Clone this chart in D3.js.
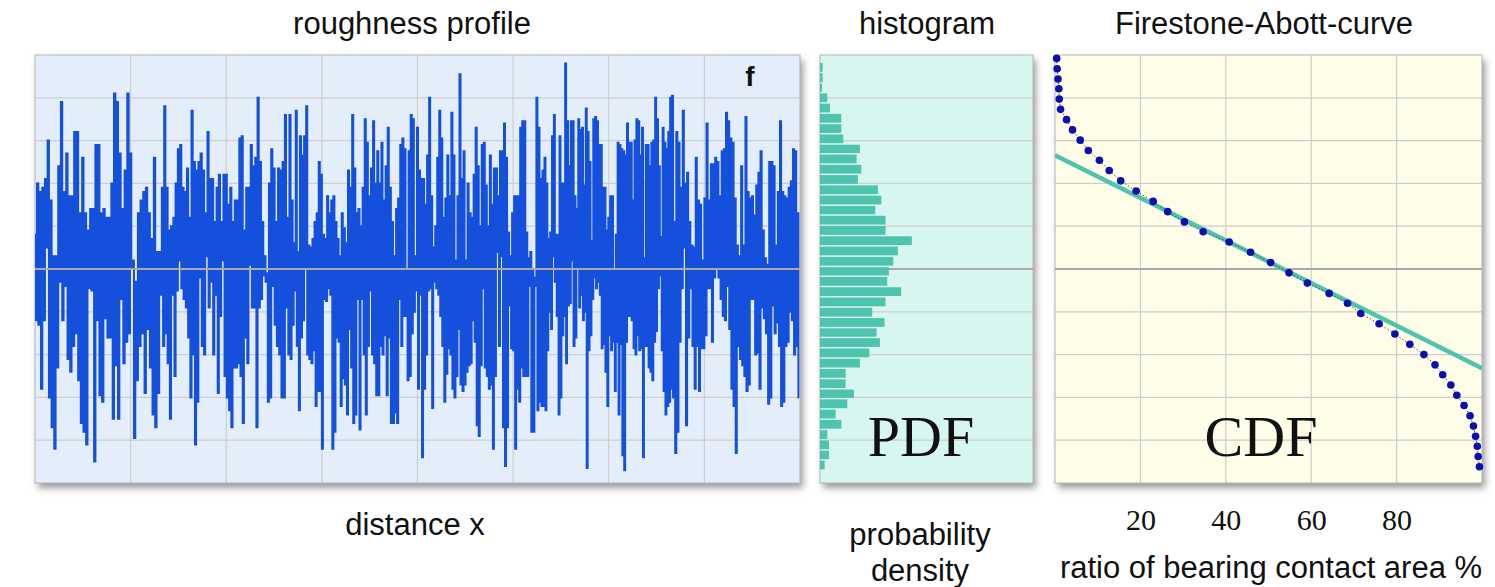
<!DOCTYPE html>
<html>
<head>
<meta charset="utf-8">
<script src="https://cdn.jsdelivr.net/npm/d3@7"></script>
<style>
body { margin: 0; background: #fff; }
text { font-family: "Liberation Sans", Arial, sans-serif; fill: #111; }
</style>
</head>
<body>
<script>
// roughness profile, peak / valley heights read off in six stretches along x
var profileSeg1 = [0.8,-1.2, 2.0,-1.3, 1.8,-2.8, 1.9,-1.2, 2.1,0.5, 3.0,-3.0, 1.6,-3.7, 0.3,-4.2, 0.3,-2.3, 2.4,-0.3,
  3.9,-1.2, 1.8,-0.4, 2.7,-2.1, 1.7,-2.4, 1.7,-1.8, 3.2,-1.5, 3.2,-2.6, 1.3,-3.6, 2.6,-3.8, 1.3,-4.1,
  0.9,-0.45, 1.4,-0.5, 1.4,-4.5, 2.9,-1.2, 2.9,-2.95, 1.3,-3.1, 1.4,-1.15, 1.2,-1.6, 1.2,-1.6, 2.0,-3.5,
  4.1,-2.25, 3.9,-3.5, 2.7,-0.7, 1.4,-2.2, 2.3,-1.7, 4.1,-1.5, 2.7,0.0, 0.2,-3.95, -0.3,-2.6, 1.3,-1.8,
  1.6,-1.5, 1.8,-2.9, 1.9,-1.4, 1.3,-2.3, 0.7,-3.4, 2.6,-3.7, 0.4,-2.9, 0.4,-0.6];
var profileSeg2 = [1.9,-1.8, 3.8,-1.5, 1.9,-2.2, 0.9,-3.5, 1.0,-0.6, 1.2,-2.5, 2.0,-0.5, 2.8,0.2, 2.9,-0.45, 1.9,-0.7,
  1.8,-0.9, 2.35,-1.6, 1.2,-3.0, 3.7,-2.0, 2.5,-4.1, 2.3,-3.1, 2.5,-0.2, 2.7,-1.8, 2.3,-2.0, 1.3,0.3,
  3.2,-0.9, 2.1,-0.3, 2.1,-2.0, 1.1,-0.6, 1.9,-2.9, 2.2,-1.1, 1.1,0.2, 2.2,-2.5, 2.2,-3.0, 1.5,-3.3,
  1.9,-3.7, 1.1,-2.3, 1.6,-2.3, 1.6,-2.2, 3.05,-2.5, 3.1,-3.6, 0.9,-1.6, 1.9,-2.2, 1.9,0.1, 2.9,-0.9,
  2.4,-0.9, 2.6,-3.7, 4.0,-0.9, 2.5,-0.7, 1.1,-0.15, 0.3,-0.3, -0.1,-3.1, 2.0,-3.0, 2.8,-0.4, 2.35,-1.3,
  1.1,-1.8, 2.35,-2.0, 2.3,-3.0, 2.5,-3.0, 3.6,-0.9, 1.2,-2.0];
var profileSeg3 = [3.6,-2.1, 1.6,-1.3, 0.6,-0.5, 3.7,-1.8, 0.4,-3.3, 3.1,-1.6, 2.65,-1.2, 3.1,0.0, 3.8,-2.0, 0.55,-2.1,
  0.5,-2.2, 0.7,-1.9, 1.1,-3.2, 1.3,-2.85, 2.5,-2.85, 2.2,-4.2, 0.8,-0.7, 0.7,-0.75, 1.7,-0.45, 1.3,-0.6,
  1.6,-4.2, 1.7,-3.8, 1.1,-1.6, 0.7,-1.7, 0.3,-3.2, 1.3,-2.55, 0.95,-2.7, 0.6,-3.4, 2.3,-1.4, 1.9,-2.3,
  3.6,-3.6, 2.35,-3.4, 1.3,-0.7, 1.4,-3.75, 1.0,-0.7, 1.9,-2.0, 3.5,-3.4, 2.95,-1.8, 1.7,-0.5, 2.35,-2.0,
  3.45,-2.2, 2.0,-2.95, 2.75,-2.95, 2.0,-1.8, 2.95,-2.0, 1.6,-1.55, 2.4,-2.95, 3.3,-1.6, 1.9,-3.6, 1.1,-3.6,
  0.3,-3.35, 1.4,-3.6, 1.65,-0.7, 2.9,-1.8, 3.05,-1.1, 2.8,-1.1, 0.0,-2.6, 2.75,-2.5, 3.6,-1.5, 3.5,-1.0, 0.3,-0.5];
var profileSeg4 = [3.3,-2.8, 2.3,-0.6, 2.1,-4.4, 2.1,-2.8, 1.5,-2.0, 2.65,-0.5, 4.0,-0.45, 1.7,-3.25, 0.5,-0.3, 1.0,-0.45,
  2.6,-0.6, 3.7,-1.1, 3.05,-1.8, 1.2,-3.1, 1.65,-2.45, 2.65,-1.85, 1.7,-2.0, 3.65,-2.8, 2.65,-3.0, 0.2,-2.5,
  1.7,-1.4, 4.55,-2.7, 2.1,-2.85, 2.75,-2.7, 0.2,-2.4, 2.0,-2.25, 1.3,-2.2, 1.2,-1.2, 2.2,-1.7, 3.3,-3.65,
  2.4,-3.9, 1.0,-2.25, 2.9,-0.45, 2.95,-2.3, 1.95,-2.5, 1.0,-2.8, 2.65,-2.7, 1.5,-4.2, 2.35,-2.5, 2.35,0.4,
  1.7,-1.8, 2.75,0.3, 2.75,-3.7, 3.4,-4.6, 2.6,-3.7, 0.85,-0.85, 0.3,-1.85, 1.3,-1.9, 1.7,-4.2, 1.7,-2.8,
  1.7,-3.1, 3.3,-2.3, 3.45,-2.5, 3.45,-2.5, 0.85,-2.5, 0.25,-0.4, 0.4,-3.8, 0.0,-3.8, -0.4,-0.2, 4.0,-3.3,
  3.3,-3.1, 2.1,-3.2, 2.3,-3.2];
var profileSeg5 = [2.6,-3.3, 2.0,-1.9, 0.7,-1.0, 0.85,-1.4, 3.1,0.3, 3.6,-0.3, 0.8,-1.1, 0.8,-3.4, 3.1,-3.0, 2.0,-1.55,
  2.0,-1.1, 4.8,-2.2, 3.45,-0.85, 2.4,-0.8, 3.45,0.2, 3.45,-1.8, 1.7,-1.6, 1.4,0.0, 3.5,-0.9, 3.25,-0.6,
  3.3,-1.2, 1.95,-1.0, 3.75,-4.65, 3.2,-1.9, 2.5,-1.55, 0.65,-0.7, 3.5,-0.2, 3.55,-0.45, 3.45,-0.3, 2.9,-0.6,
  2.9,-1.85, 1.9,-1.75, 1.9,-2.4, 0.9,-3.2, 1.2,-1.55, 1.7,-1.9, 1.7,-1.7, 0.0,-2.85, 0.8,-1.7, 2.95,-3.4,
  2.9,-1.75, 2.8,-4.35, 2.75,-4.7, 2.65,-1.7, 3.4,-1.1, 2.95,-1.1, 2.95,-1.2, 1.6,-1.85, 3.0,-2.0, 3.5,-1.55,
  3.45,-1.9, 2.65,-1.85, 3.3,-4.4, 0.25,-1.8, 2.9,-1.8, 2.9,-2.3, 2.4,-2.4, 2.95,-2.6, 3.0,-1.7, 4.0,-1.45,
  3.5,-0.45, 2.4,-0.15, 0.75,-1.9, 3.3,-2.85, 2.95,-3.4, 2.8,-3.2, 3.2,-3.1, 4.0,-2.8];
var profileSeg6 = [4.05,-3.0, 1.1,-4.3, 3.2,-3.8, 2.95,-1.7, 1.9,-0.45, 3.7,0.5, 2.0,-3.65, 2.25,-1.6, 1.1,-0.45, 0.55,-1.8,
  0.5,-2.8, 2.6,-1.8, 1.6,-2.85, 1.5,-1.85, 0.2,-1.85, 1.65,-1.55, 3.4,-0.45, 1.6,-0.45, 2.45,-1.7, 2.45,-0.2,
  2.6,0.0, 2.5,-0.2, 1.7,-0.7, 2.75,-1.1, 2.8,-1.2, 3.65,-0.4, 3.45,-1.4, 3.05,-2.8, 2.95,-3.2, 1.65,-4.3,
  0.55,-1.8, 0.3,-2.1, 2.4,-2.25, 0.55,-2.5, 3.55,-2.85, 1.8,-2.7, 1.65,-0.7, 1.7,-0.7, 1.25,-2.0, 1.95,-1.95,
  2.25,-2.8, 2.75,-0.9, 0.9,-1.15, 0.25,-1.5, 0.1,-3.15, 2.5,-3.0, 2.5,-0.85, 2.4,-1.5, 0.55,-1.25, 1.8,-1.8,
  3.45,-3.2, 1.8,-3.1, 1.7,-1.8, 1.65,-1.7, 1.9,-1.0, 2.05,-1.2, 2.8,-2.0, 2.75,-1.8, 1.3,-3.0];

// histogram: bin edges (height) from top to bottom, and counts per bin
var histEdges = [4.83, 4.59, 4.35, 4.12, 3.88, 3.64, 3.40, 3.16, 2.92, 2.69, 2.45, 2.21, 1.97, 1.73, 1.49, 1.26, 1.02, 0.78,
  0.54, 0.30, 0.06, -0.17, -0.41, -0.65, -0.89, -1.13, -1.37, -1.60, -1.84, -2.08, -2.32, -2.56, -2.80, -3.03, -3.27,
  -3.51, -3.75, -3.99, -4.23, -4.46, -4.70];
var histCounts = [8, 8, 6, 22, 30, 64, 64, 70, 120, 110, 124, 114, 174, 184, 166, 197, 197, 276, 234, 220,
  207, 202, 244, 197, 157, 194, 170, 180, 148, 120, 77, 77, 102, 82, 47, 64, 22, 27, 27, 14];

// Firestone-Abbott curve: height vs. bearing ratio (%)
var cdfHeight = [4.92, 4.68, 4.44, 4.21, 3.97, 3.73, 3.49, 3.25, 3.01, 2.77, 2.54, 2.30, 2.06, 1.82, 1.58, 1.34, 1.10,
  0.87, 0.63, 0.39, 0.15, -0.09, -0.33, -0.57, -0.80, -1.04, -1.28, -1.52, -1.76, -2.00, -2.24, -2.47, -2.71, -2.95,
  -3.19, -3.43, -3.67, -3.91, -4.14, -4.38, -4.62];
var cdfPct = [0.4, 0.5, 0.7, 0.9, 1.0, 1.3, 2.7, 4.1, 5.9, 7.8, 10.4, 12.7, 15.4, 19.0, 23.0, 26.4, 30.3, 34.7, 40.8,
  45.8, 50.5, 54.8, 59.1, 64.2, 68.5, 71.6, 75.9, 79.6, 83.1, 86.4, 89.0, 90.8, 92.7, 94.1, 95.8, 97.2, 98.0, 98.5,
  98.9, 99.1, 99.4];
var fitPct = [0, 100];
var fitHeight = [2.66, -2.32];
var pctTicks = [20, 40, 60, 80];

var panelTop = 55, panelBottom = 483;

var svg = d3.select("body").append("svg")
  .attr("width", 1495)
  .attr("height", 587);

var defs = svg.append("defs");
var shadow = defs.append("filter").attr("id", "shadow")
  .attr("x", "-5%").attr("y", "-5%").attr("width", "115%").attr("height", "115%");
shadow.append("feDropShadow")
  .attr("dx", 3).attr("dy", 5).attr("stdDeviation", 3.5)
  .attr("flood-color", "#555").attr("flood-opacity", 0.6);

var yScale = d3.scaleLinear().domain([-5, 5]).range([panelBottom, panelTop]);
var xDist = d3.scaleLinear().domain([0, 8]).range([35, 800]);
var xDens = d3.scaleLinear().domain([0, 640]).range([820, 1033]);
var xPct = d3.scaleLinear().domain([0, 100]).range([1055, 1482]);

var hTicks = d3.range(-4, 5);

//draw a panel background with its grid
function panel(xs, fill, vTicks, id) {
  var x0 = xs.range()[0], x1 = xs.range()[1];
  svg.append("rect")
    .attr("x", x0).attr("y", panelTop)
    .attr("width", x1 - x0).attr("height", panelBottom - panelTop)
    .attr("fill", fill)
    .attr("filter", "url(#shadow)");
  defs.append("clipPath").attr("id", id).append("rect")
    .attr("x", x0).attr("y", panelTop)
    .attr("width", x1 - x0).attr("height", panelBottom - panelTop);
  var g = svg.append("g");
  g.selectAll("line.h").data(hTicks.filter(function(d) { return d !== 0; }))
    .enter().append("line")
    .attr("x1", x0).attr("x2", x1)
    .attr("y1", function(d) { return yScale(d); })
    .attr("y2", function(d) { return yScale(d); })
    .attr("stroke", "#cdcdcd").attr("stroke-width", 1.2);
  g.selectAll("line.v").data(vTicks)
    .enter().append("line")
    .attr("x1", function(d) { return xs(d); })
    .attr("x2", function(d) { return xs(d); })
    .attr("y1", panelTop).attr("y2", panelBottom)
    .attr("stroke", "#cdcdcd").attr("stroke-width", 1.2);
  g.append("rect")
    .attr("x", x0).attr("y", panelTop)
    .attr("width", x1 - x0).attr("height", panelBottom - panelTop)
    .attr("fill", "none").attr("stroke", "#b5b5b5").attr("stroke-width", 1);
  return g;
}

function zeroLine(xs) {
  svg.append("line")
    .attr("x1", xs.range()[0]).attr("x2", xs.range()[1])
    .attr("y1", yScale(0)).attr("y2", yScale(0))
    .attr("stroke", "#a9a9a9").attr("stroke-width", 2);
}

// ---- roughness profile
panel(xDist, "#e4eefa", [1, 2, 3, 4, 5, 6, 7], "clipProfile");

var segs = [profileSeg1, profileSeg2, profileSeg3, profileSeg4, profileSeg5, profileSeg6];
var profile = [];
segs.forEach(function(seg, s) {
  seg.forEach(function(v, i) {
    profile.push({x: (s + i / seg.length) * 8 / 6, y: v});
  });
});

svg.append("path")
  .datum(profile)
  .attr("clip-path", "url(#clipProfile)")
  .attr("fill", "none")
  .attr("stroke", "#1550dc")
  .attr("stroke-width", 2)
  .attr("d", d3.line()
    .x(function(d) { return xDist(d.x); })
    .y(function(d) { return yScale(d.y); })
    .curve(d3.curveStep));
zeroLine(xDist);

svg.append("text")
  .attr("x", 750).attr("y", 86)
  .attr("text-anchor", "middle")
  .style("font-size", "28px").style("font-weight", "bold")
  .text("f");

// ---- histogram
panel(xDens, "#d6f6ef", [], "clipHist");
zeroLine(xDens);
svg.append("g").selectAll("rect")
  .data(histCounts)
  .enter().append("rect")
  .attr("x", xDens(0))
  .attr("y", function(d, i) { return yScale(histEdges[i]) + 0.7; })
  .attr("width", function(d) { return xDens(d) - xDens(0); })
  .attr("height", function(d, i) { return yScale(histEdges[i + 1]) - yScale(histEdges[i]) - 1.5; })
  .attr("fill", "#4ec4ae");

svg.append("text")
  .attr("x", 921).attr("y", 456)
  .attr("text-anchor", "middle")
  .style("font-family", "'Liberation Serif', serif")
  .style("font-size", "58px")
  .text("PDF");

// ---- Firestone-Abbott curve
panel(xPct, "#fffde7", pctTicks, "clipCdf");
zeroLine(xPct);

var cdf = cdfPct.map(function(p, i) { return {p: p, h: cdfHeight[i]}; });
var fit = fitPct.map(function(p, i) { return {p: p, h: fitHeight[i]}; });

svg.append("path")
  .datum(fit)
  .attr("clip-path", "url(#clipCdf)")
  .attr("fill", "none")
  .attr("stroke", "#4ec4ab")
  .attr("stroke-width", 4.5)
  .attr("d", d3.line()
    .x(function(d) { return xPct(d.p); })
    .y(function(d) { return yScale(d.h); }));

svg.append("path")
  .datum(cdf)
  .attr("fill", "none")
  .attr("stroke", "#45457a")
  .attr("stroke-width", 1)
  .attr("stroke-dasharray", "1.5,2")
  .attr("d", d3.line()
    .x(function(d) { return xPct(d.p); })
    .y(function(d) { return yScale(d.h); }));

svg.append("g").selectAll("circle")
  .data(cdf)
  .enter().append("circle")
  .attr("cx", function(d) { return xPct(d.p); })
  .attr("cy", function(d) { return yScale(d.h); })
  .attr("r", 3.8)
  .attr("fill", "#0b0fae");

svg.append("text")
  .attr("x", 1261).attr("y", 456)
  .attr("text-anchor", "middle")
  .style("font-family", "'Liberation Serif', serif")
  .style("font-size", "58px")
  .text("CDF");

var axis = svg.append("g")
  .attr("transform", "translate(0,504)")
  .call(d3.axisBottom(xPct).tickValues(pctTicks).tickSize(0).tickPadding(5));
axis.select(".domain").remove();
axis.selectAll("text")
  .style("font-family", "'Liberation Serif', serif")
  .style("font-size", "30px")
  .attr("fill", "#222");

// ---- titles and labels
var labels = [
  {t: "roughness profile", x: 412, y: 34},
  {t: "histogram", x: 927, y: 34},
  {t: "Firestone-Abott-curve", x: 1264, y: 34},
  {t: "distance x", x: 415, y: 535},
  {t: "probability", x: 920, y: 545},
  {t: "density", x: 920, y: 581},
  {t: "ratio of bearing contact area %", x: 1271, y: 578}
];
svg.append("g").selectAll("text")
  .data(labels)
  .enter().append("text")
  .attr("x", function(d) { return d.x; })
  .attr("y", function(d) { return d.y; })
  .attr("text-anchor", "middle")
  .style("font-size", "31px")
  .text(function(d) { return d.t; });
</script>
</body>
</html>
